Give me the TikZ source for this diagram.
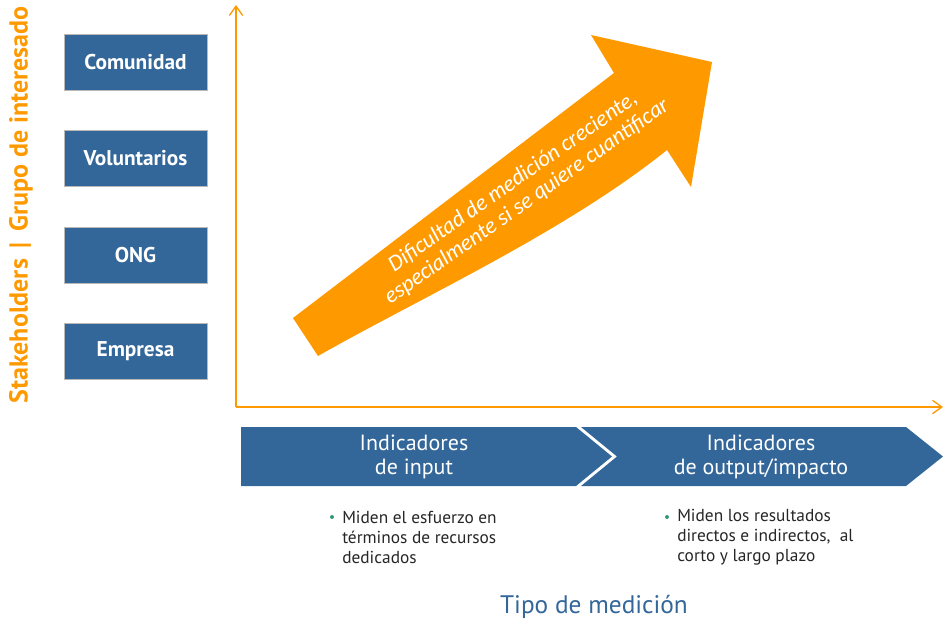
\documentclass[tikz,border=0pt]{standalone}
\usepackage{fontspec}
\setmainfont{PT Sans}
\newfontfamily\arrowfont{Carlito}
\usetikzlibrary{arrows.meta}
\definecolor{stakeblue}{RGB}{51,102,153}
\definecolor{stakeorange}{RGB}{255,153,0}
\definecolor{bulletgreen}{RGB}{51,153,120}
\tikzset{
  stakebox/.style={draw=gray!55, line width=0.4pt, fill=stakeblue, text=white,
    font=\bfseries\fontsize{16}{18}\selectfont, minimum width=107.25pt, minimum height=42pt, inner sep=0pt},
  axisline/.style={draw=stakeorange, line width=1pt, -{Straight Barb[length=7pt,width=10pt]}},
  chevron/.style={fill=stakeblue, draw=none},
  chevtext/.style={text=white, align=center, font=\fontsize{16.5}{18}\selectfont},
  bullettext/.style={anchor=west, align=left, text=black!85, inner sep=0pt, font=\fontsize{13}{15}\selectfont},
  bulletdot/.style={circle, fill=bulletgreen, minimum size=3pt, inner sep=0pt}
}
\begin{document}
\begin{tikzpicture}[x=0.75pt,y=0.75pt,yscale=-1,xscale=1]
\useasboundingbox (0,0) rectangle (943,622);

%Axes
\coordinate (origin) at (236,407);
\coordinate (ytop) at (236,5);
\coordinate (xend) at (943,407);
\draw [axisline] (origin) -- (ytop);
\draw [axisline] (origin) -- (xend);

% Text Node
\node (ylabel) at (21,205) [rotate=90, text=stakeorange, font=\bfseries\fontsize{19.5}{22}\selectfont] {Stakeholders \,|\, Grupo de interesado};

% Stakeholder boxes
\node [stakebox] (comunidad) at (135.5,62) {Comunidad};
\node [stakebox] (voluntarios) at (135.5,158) {Voluntarios};
\node [stakebox] (ong) at (135.5,255) {ONG};
\node [stakebox] (empresa) at (135.5,351) {Empresa};

%Big arrow
\fill [stakeorange] (293,318) -- (614,73) -- (591,35) -- (712,62) -- (691,187) -- (667,150)
  .. controls (565,232) and (420,298) .. (318,356) -- cycle;
% Text Node
\node (difficulty) at (520,192) [rotate=35, text=white, align=center, font=\arrowfont\itshape\fontsize{17}{18}\selectfont] {Dificultad de medición creciente,\\especialmente si se quiere cuantificar};

%Chevrons
\fill [chevron] (241,427) -- (576,427) -- (612,456.5) -- (576,486) -- (241,486) -- cycle;
\fill [chevron] (581,427) -- (906,427) -- (943,456.5) -- (906,486) -- (581,486) -- (617,456.5) -- cycle;
% Text Node
\node [chevtext] (input) at (414,457) {Indicadores\\de input};
% Text Node
\node [chevtext] (output) at (761,457) {Indicadores\\de output/impacto};

% Bullets
\node [bulletdot] (dotinput) at (332,517) {};
\node [bullettext] (textinput) at (342,537) {Miden el esfuerzo en\\términos de recursos\\dedicados};
\node [bulletdot] (dotoutput) at (667,517) {};
\node [bullettext] (textoutput) at (677,537) {Miden los resultados\\directos e indirectos,\ \ al\\corto y largo plazo};

% Text Node
\node (tipo) at (594,607) [text=stakeblue, font=\fontsize{19}{22}\selectfont] {Tipo de medición};

\end{tikzpicture}
\end{document}
